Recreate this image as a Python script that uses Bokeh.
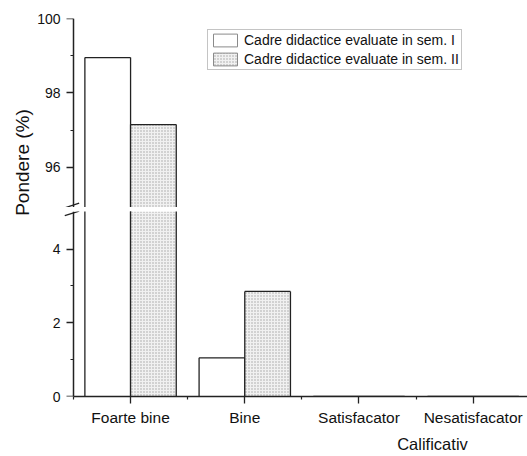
import numpy as np
from math import pi
from bokeh.plotting import figure
from bokeh.models import (Range1d, FixedTicker, Label, Legend, LegendItem,
                          ColumnDataSource, CDSView, BooleanFilter, LinearAxis)
from bokeh.transform import dodge
from bokeh.layouts import row, column
from bokeh.embed import file_html
from bokeh.resources import INLINE

# ---- data ----
categories = ["Foarte bine", "Bine", "Satisfacator", "Nesatisfacator"]
sem_I = [98.95, 1.05, 0.0, 0.0]
sem_II = [97.15, 2.85, 0.0, 0.0]
series_labels = ["Cadre didactice evaluate in sem. I",
                 "Cadre didactice evaluate in sem. II"]
upper_ticks = [96, 98, 100]
upper_minor = [97, 99]
lower_ticks = [0, 2, 4]
lower_minor = [1, 3]
x_label = "Calificativ"
y_label = "Pondere (%)"

FONT = "Liberation Sans"
INK = "#222222"
TXT = "#111111"

pos = np.arange(1, len(categories) + 1)
src = ColumnDataSource(dict(x=pos, cat=categories, s1=sem_I, s2=sem_II))
X0 = 0.5                       # where the value axis stands
xr = Range1d(0.404, 4.4756)

series = [
    ("s1", -0.2, dict(fill_color="white")),
    ("s2", 0.2, dict(fill_color="#f1f1f1", hatch_pattern=".",
                     hatch_color="#a3a3a3", hatch_scale=3, hatch_weight=1)),
]


def style_axis(ax, ticks, minor):
    ax.ticker = FixedTicker(ticks=ticks, minor_ticks=minor)
    ax.axis_line_color = INK
    ax.axis_line_width = 1.5
    ax.major_tick_line_color = INK
    ax.major_tick_line_width = 1.3
    ax.minor_tick_line_color = INK
    ax.minor_tick_line_width = 1.2
    ax.major_tick_in = 0
    ax.major_tick_out = 7
    ax.minor_tick_in = 0
    ax.minor_tick_out = 3
    ax.major_label_text_font = FONT
    ax.major_label_text_color = TXT


def make_panel(lo, hi, ticks, minor, height, mb_top, mb_bottom, show_x):
    p = figure(width=493, height=height, x_range=xr, y_range=Range1d(lo, hi),
               output_backend="svg", toolbar_location=None,
               x_axis_location="below" if show_x else None,
               min_border_left=26, min_border_right=0,
               min_border_top=mb_top, min_border_bottom=mb_bottom)
    p.outline_line_color = None
    p.grid.visible = False
    for col, off, fill in series:
        vals = src.data[col]
        present = CDSView(filter=BooleanFilter([v > lo for v in vals]))
        top_in = CDSView(filter=BooleanFilter([lo <= v <= hi for v in vals]))
        p.vbar(x=dodge("x", off, range=xr), top=col, width=0.4, source=src,
               view=present, line_color=None, **fill)
        left = dodge("x", off - 0.2, range=xr)
        right = dodge("x", off + 0.2, range=xr)
        for side in (left, right):
            p.segment(x0=side, y0=0, x1=side, y1=col, source=src, view=present,
                      line_color=INK, line_width=1.3)
        p.segment(x0=left, y0=col, x1=right, y1=col, source=src, view=top_in,
                  line_color=INK, line_width=1.3)
    # axis line and ticks, standing at X0 inside the frame
    ya = p.yaxis[0]
    style_axis(ya, ticks, minor)
    ya.fixed_location = X0
    ya.major_label_text_color = None
    # tick labels of the same scale, in the left margin
    lab_axis = LinearAxis(ticker=FixedTicker(ticks=ticks, minor_ticks=[]),
                          axis_line_color=None, major_tick_line_color=None,
                          minor_tick_line_color=None, major_tick_in=0,
                          major_tick_out=0, minor_tick_in=0, minor_tick_out=0,
                          major_label_standoff=2,
                          major_label_text_font=FONT,
                          major_label_text_font_size="14px",
                          major_label_text_color=TXT)
    p.add_layout(lab_axis, "left")
    return p


# upper part of the broken axis
UP_LO, UP_HI = 94.92, 100
up = make_panel(UP_LO, UP_HI, upper_ticks, upper_minor, 207, 18, 0, False)
# legend swatches: renderers that hold no drawable value, only the look
nan_src = ColumnDataSource(dict(x=[np.nan], top=[np.nan]))
proxies = [up.vbar(x="x", top="top", width=0.4, source=nan_src,
                   line_color="#8a8a8a", line_width=1, **fill)
           for _, _, fill in series]
legend = Legend(items=[LegendItem(label=lab, renderers=[r])
                       for lab, r in zip(series_labels, proxies)],
                location=(145, 137), margin=0, padding=2, spacing=3,
                glyph_width=30, glyph_height=16, label_height=16,
                label_standoff=4, border_line_color="#8a8a8a",
                border_line_width=1, background_fill_color="white",
                label_text_font=FONT, label_text_font_size="14px",
                label_text_color=TXT)
up.add_layout(legend)
# break mark, upper stroke
up.segment(x0=[X0 - 0.076], y0=[UP_LO - 0.01], x1=[X0 + 0.05], y1=[UP_LO + 0.12],
           line_color=INK, line_width=1.3)

# lower part of the broken axis
LO_LO, LO_HI = 0, 5.02
low = make_panel(LO_LO, LO_HI, lower_ticks, lower_minor, 221, 4, 30, True)
xa = low.xaxis[0]
style_axis(xa, list(pos), list(pos - 0.5))
xa.bounds = (X0, 10)
xa.major_label_overrides = {int(v): c for v, c in zip(pos, categories)}
xa.major_label_text_font_size = "15.5px"
xa.major_label_standoff = 5
# break mark, lower stroke
low.segment(x0=[X0 - 0.076], y0=[LO_HI - 0.11], x1=[X0 + 0.05], y1=[LO_HI + 0.01],
            line_color=INK, line_width=1.3)

# x-axis title strip
xl = figure(width=493, height=28, output_backend="svg", toolbar_location=None,
            x_axis_location=None, y_axis_location=None, min_border=0,
            x_range=Range1d(0, 1), y_range=Range1d(0, 1))
xl.outline_line_color = None
xl.grid.visible = False
xl.add_layout(Label(x=370, y=13, x_units="screen", y_units="screen",
                    text=x_label, text_align="center",
                    text_baseline="middle", text_font=FONT,
                    text_font_size="16.5px", text_color=TXT))

# y-axis title strip
lf = figure(width=34, height=456, output_backend="svg", toolbar_location=None,
            x_axis_location=None, y_axis_location=None, min_border=0,
            x_range=Range1d(0, 1), y_range=Range1d(0, 1))
lf.outline_line_color = None
lf.grid.visible = False
lf.add_layout(Label(x=22, y=294, x_units="screen", y_units="screen",
                    text=y_label, angle=pi / 2, text_align="center",
                    text_baseline="middle", text_font=FONT,
                    text_font_size="19px", text_color=TXT))

layout = row(lf, column(up, low, xl))
open("out.html", "w").write(file_html(layout, INLINE))
